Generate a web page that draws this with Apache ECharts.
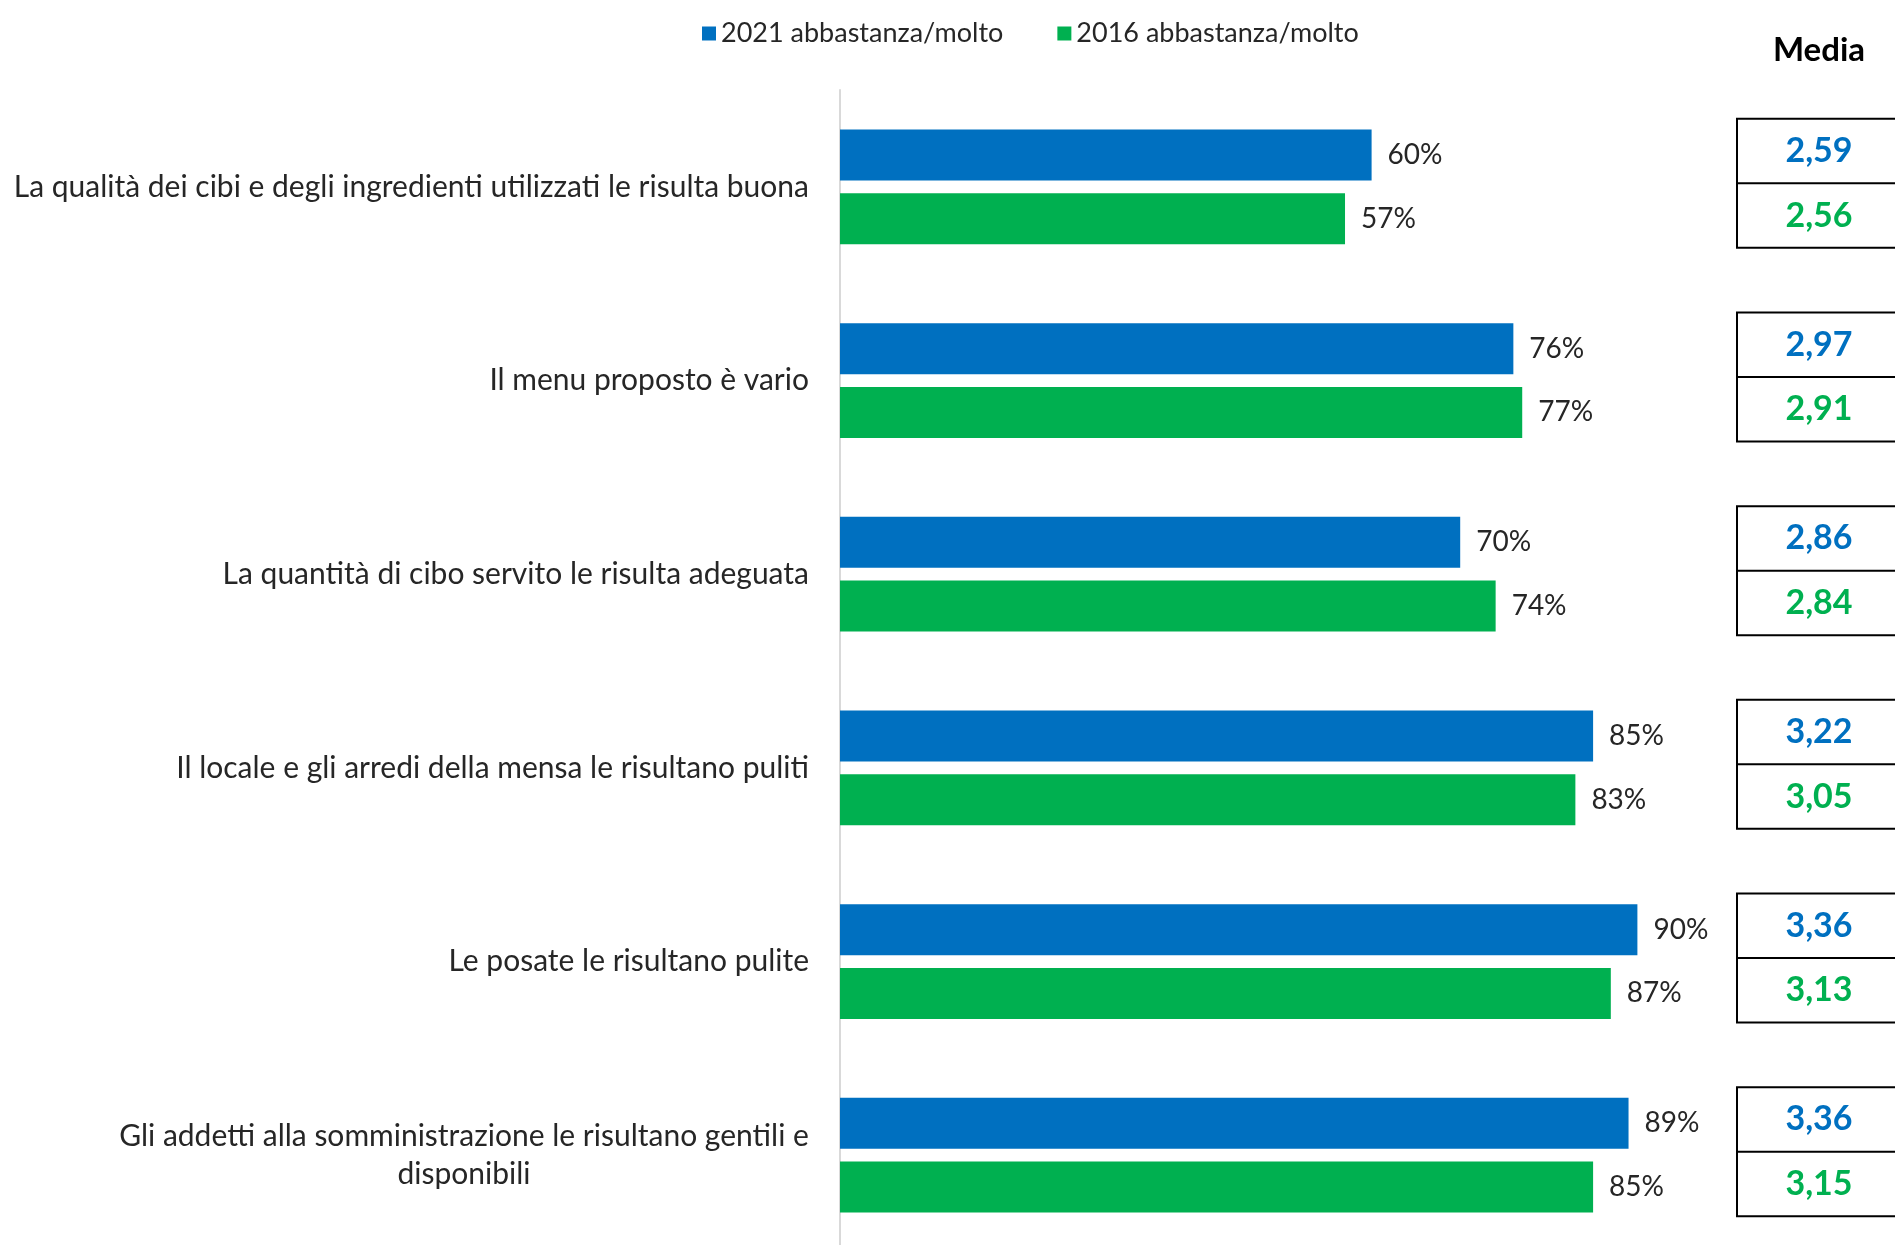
<!DOCTYPE html>
<html>
<head>
<meta charset="utf-8">
<script src="https://cdn.jsdelivr.net/npm/echarts@6/dist/echarts.min.js"></script>
<style>
  html, body { margin: 0; padding: 0; background: #fff; }
  #chart { width: 1895px; height: 1245px; }
</style>
</head>
<body>
<div id="chart"></div>
<script>
// Survey items (top to bottom)
const categories = [
  'La qualità dei cibi e degli ingredienti utilizzati le risulta buona',
  'Il menu proposto è vario',
  'La quantità di cibo servito le risulta adeguata',
  'Il locale e gli arredi della mensa le risultano puliti',
  'Le posate le risultano pulite',
  'Gli addetti alla somministrazione le risultano gentili e\ndisponibili'
];
// Share answering "abbastanza/molto" (%)
const pct2021 = [60, 76, 70, 85, 90, 89];
const pct2016 = [57, 77, 74, 83, 87, 85];
// Average score per item
const media2021 = [2.59, 2.97, 2.86, 3.22, 3.36, 3.36];
const media2016 = [2.56, 2.91, 2.84, 3.05, 3.13, 3.15];
const seriesNames = ['2021 abbastanza/molto', '2016 abbastanza/molto'];
const mediaTitle = 'Media';

const BLUE = '#0070C0';
const GREEN = '#00B050';
const FONT = 'Lato';
const LABEL_SIZE = 30;

const fmtMedia = v => v.toFixed(2).replace('.', ',');

// Multi-line category labels: each line is centred inside the block,
// the block itself stays right-aligned against the axis.
const measureCtx = document.createElement('canvas').getContext('2d');
measureCtx.font = LABEL_SIZE + 'px ' + FONT;
const labelRich = {};
categories.forEach((c, i) => {
  const lines = c.split('\n');
  if (lines.length > 1) {
    const w = Math.ceil(Math.max(...lines.map(l => measureCtx.measureText(l).width)));
    labelRich['l' + i] = { width: w, align: 'center', fontSize: LABEL_SIZE, fontFamily: FONT, color: '#262626', lineHeight: 38 };
  }
});

const chart = echarts.init(document.getElementById('chart'));

const tableData = categories.map((c, i) => [0, i, media2021[i], media2016[i]]);

chart.setOption({
  animation: false,
  textStyle: { fontFamily: FONT },
  legend: {
    data: seriesNames,
    top: 15,
    left: 697,
    icon: 'rect',
    itemWidth: 14,
    itemHeight: 14,
    itemGap: 54,
    textStyle: { fontFamily: FONT, fontSize: 27, color: '#262626' }
  },
  graphic: [{
    type: 'text',
    x: 1819,
    y: 50,
    style: { text: mediaTitle, font: 'bold 33px ' + FONT, fill: '#000', align: 'center', verticalAlign: 'middle' }
  }],
  grid: { left: 840, right: 169, top: 90, bottom: -7, outerBoundsMode: 'none' },
  xAxis: { type: 'value', min: 0, max: 100, show: false },
  yAxis: {
    type: 'category',
    data: categories,
    inverse: true,
    axisLine: { show: true, lineStyle: { color: '#d9d9d9', width: 2 } },
    axisTick: { show: false },
    axisLabel: {
      margin: 31,
      fontSize: LABEL_SIZE,
      color: '#262626',
      lineHeight: 38,
      formatter: (v, i) => {
        const lines = v.split('\n');
        if (lines.length === 1) return v;
        return lines.map(l => '{l' + i + '|' + l + '}').join('\n');
      },
      rich: labelRich
    }
  },
  series: [
    {
      name: seriesNames[0], type: 'bar', data: pct2021,
      barWidth: 51, barGap: '25%',
      itemStyle: { color: BLUE },
      label: { show: true, position: 'right', distance: 16, formatter: '{c}%', fontSize: 28, color: '#262626', fontFamily: FONT }
    },
    {
      name: seriesNames[1], type: 'bar', data: pct2016,
      barWidth: 51,
      itemStyle: { color: GREEN },
      label: { show: true, position: 'right', distance: 16, formatter: '{c}%', fontSize: 28, color: '#262626', fontFamily: FONT }
    },
    {
      // Table of average scores to the right of the bars
      type: 'custom',
      name: 'media',
      clip: false,
      encode: { x: 0, y: 1 },
      data: tableData,
      renderItem: (params, api) => {
        const c = api.coord([0, api.value(1)]);
        const left = 1737, w = 220, h = 129;
        const top = c[1] - 68;
        const cx = 1819;
        return {
          type: 'group',
          children: [
            { type: 'rect', shape: { x: left, y: top, width: w, height: h },
              style: { fill: 'none', stroke: '#000', lineWidth: 2 } },
            { type: 'line', shape: { x1: left, y1: top + h / 2, x2: left + w, y2: top + h / 2 },
              style: { stroke: '#000', lineWidth: 2 } },
            { type: 'text', x: cx, y: top + h / 4,
              style: { text: fmtMedia(api.value(2)), font: 'bold 34px ' + FONT, fill: BLUE, align: 'center', verticalAlign: 'middle' } },
            { type: 'text', x: cx, y: top + 3 * h / 4,
              style: { text: fmtMedia(api.value(3)), font: 'bold 34px ' + FONT, fill: GREEN, align: 'center', verticalAlign: 'middle' } }
          ]
        };
      }
    }
  ]
});
</script>
</body>
</html>
